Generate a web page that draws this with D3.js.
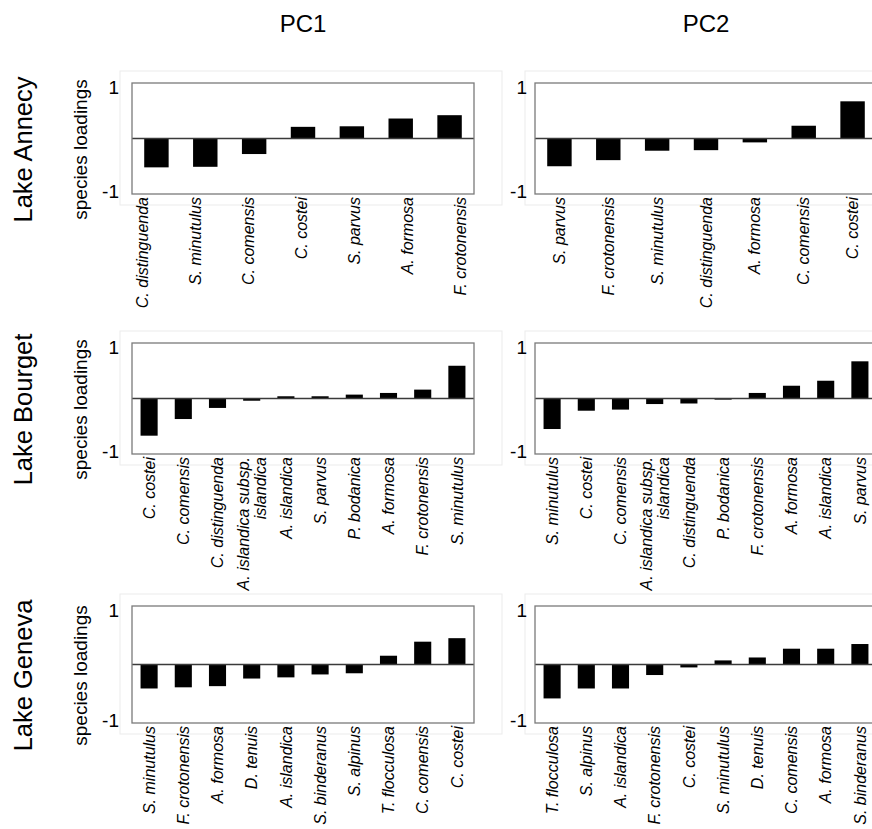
<!DOCTYPE html>
<html>
<head>
<meta charset="utf-8">
<script src="https://cdn.jsdelivr.net/npm/d3@7"></script>
<style>
  body { margin: 0; background: #fff; }
  svg { display: block; font-family: "Liberation Sans", Arial, sans-serif; }
</style>
</head>
<body>
<div id="chart"></div>
<script>
// species loadings per lake, PC1 / PC2
const columnTitles = ['PC1', 'PC2'];
const lakeNames = ['Lake Annecy', 'Lake Bourget', 'Lake Geneva'];
const yTickLabels = ['1', '-1'];

const annecyPC1Species = ['C. distinguenda', 'S. minutulus', 'C. comensis', 'C. costei', 'S. parvus', 'A. formosa', 'F. crotonensis'];
const annecyPC1Values = [-0.52, -0.51, -0.28, 0.21, 0.22, 0.36, 0.42];
const annecyPC2Species = ['S. parvus', 'F. crotonensis', 'S. minutulus', 'C. distinguenda', 'A. formosa', 'C. comensis', 'C. costei'];
const annecyPC2Values = [-0.50, -0.39, -0.22, -0.21, -0.07, 0.23, 0.67];

const bourgetPC1Species = ['C. costei', 'C. comensis', 'C. distinguenda', 'A. islandica subsp. islandica', 'A. islandica', 'S. parvus', 'P. bodanica', 'A. formosa', 'F. crotonensis', 'S. minutulus'];
const bourgetPC1Values = [-0.67, -0.37, -0.17, -0.04, 0.04, 0.04, 0.07, 0.10, 0.16, 0.59];
const bourgetPC2Species = ['S. minutulus', 'C. costei', 'C. comensis', 'A. islandica subsp. islandica', 'C. distinguenda', 'P. bodanica', 'F. crotonensis', 'A. formosa', 'A. islandica', 'S. parvus'];
const bourgetPC2Values = [-0.55, -0.22, -0.20, -0.10, -0.09, -0.02, 0.10, 0.23, 0.32, 0.67];

const genevaPC1Species = ['S. minutulus', 'F. crotonensis', 'A. formosa', 'D. tenuis', 'A. islandica', 'S. binderanus', 'S. alpinus', 'T. flocculosa', 'C. comensis', 'C. costei'];
const genevaPC1Values = [-0.41, -0.39, -0.37, -0.24, -0.22, -0.17, -0.15, 0.15, 0.39, 0.45];
const genevaPC2Species = ['T. flocculosa', 'S. alpinus', 'A. islandica', 'F. crotonensis', 'C. costei', 'S. minutulus', 'D. tenuis', 'C. comensis', 'A. formosa', 'S. binderanus'];
const genevaPC2Values = [-0.58, -0.41, -0.41, -0.18, -0.05, 0.07, 0.12, 0.27, 0.27, 0.35];

// layout
const W = 872, H = 829;
const colLeft = [132, 535];
const colWidth = 342;
const tickGap = [13, 8];
const rowTop = [83, 343, 606];
const rowBottom = [194, 454, 723];

const panels = [
    [{ species: annecyPC1Species, values: annecyPC1Values, labelRange: [142, 460] },
     { species: annecyPC2Species, values: annecyPC2Values }],
    [{ species: bourgetPC1Species, values: bourgetPC1Values },
     { species: bourgetPC2Species, values: bourgetPC2Values }],
    [{ species: genevaPC1Species, values: genevaPC1Values },
     { species: genevaPC2Species, values: genevaPC2Values }]
];

const svg = d3.select('#chart').append('svg')
    .attr('width', W)
    .attr('height', H);

// 열 제목
columnTitles.forEach((t, c) => {
    svg.append('text')
        .attr('x', colLeft[c] + colWidth / 2)
        .attr('y', 32)
        .attr('text-anchor', 'middle')
        .attr('font-size', 24)
        .text(t);
});

// 라벨 줄바꿈 (긴 이름만)
function splitLabel(s) {
    if (s.length <= 20) return [s];
    const i = s.lastIndexOf(' ');
    return [s.slice(0, i), s.slice(i + 1)];
}

panels.forEach((row, r) => {
    const top = rowTop[r], bottom = rowBottom[r];
    const mid = (top + bottom) / 2;

    // 행 라벨
    svg.append('text')
        .attr('transform', `translate(23,${mid + 11}) rotate(-90)`)
        .attr('text-anchor', 'middle')
        .attr('dominant-baseline', 'central')
        .attr('font-size', 25.5)
        .text(lakeNames[r]);

    svg.append('text')
        .attr('transform', `translate(80,${mid + 11}) rotate(-90)`)
        .attr('text-anchor', 'middle')
        .attr('dominant-baseline', 'central')
        .attr('font-size', 19)
        .text('species loadings');

    row.forEach((p, c) => {
        const left = colLeft[c], right = left + colWidth;
        const g = svg.append('g');

        const x = d3.scaleBand()
            .domain(p.species)
            .range([left, right])
            .paddingInner(0.5)
            .paddingOuter(0.25);
        const y = d3.scaleLinear().domain([-1, 1]).range([bottom, top]);

        const lx = d3.scalePoint()
            .domain(p.species)
            .range(p.labelRange || [x(p.species[0]) + x.bandwidth() / 2,
                                    x(p.species[p.species.length - 1]) + x.bandwidth() / 2]);

        // 옅은 바깥 테두리 (원본 붙여넣기 흔적)
        g.append('rect')
            .attr('x', left - (c === 0 ? 12 : 10))
            .attr('y', top - 12)
            .attr('width', colWidth + 40)
            .attr('height', bottom - top + 23)
            .attr('fill', 'none')
            .attr('stroke', '#ebebeb')
            .attr('stroke-width', 1);

        g.selectAll('.bar')
            .data(p.values)
            .join('rect')
            .attr('class', 'bar')
            .attr('x', (d, i) => x(p.species[i]))
            .attr('width', x.bandwidth())
            .attr('y', d => y(Math.max(0, d)))
            .attr('height', d => Math.abs(y(d) - y(0)))
            .attr('fill', '#000');

        // 0 기준선
        g.append('line')
            .attr('x1', left).attr('x2', right)
            .attr('y1', y(0)).attr('y2', y(0))
            .attr('stroke', '#3a3a3a')
            .attr('stroke-width', 1.3);

        // 패널 테두리
        g.append('rect')
            .attr('x', left).attr('y', top)
            .attr('width', colWidth).attr('height', bottom - top)
            .attr('fill', 'none')
            .attr('stroke', '#7a7a7a')
            .attr('stroke-width', 1.3);

        // y 눈금 값
        [1, -1].forEach((v, k) => {
            g.append('text')
                .attr('x', left - tickGap[c])
                .attr('y', y(v) + (v > 0 ? 4 : -3))
                .attr('text-anchor', 'end')
                .attr('dominant-baseline', 'central')
                .attr('font-size', 19)
                .text(yTickLabels[k]);
        });

        // 종 이름
        p.species.forEach(s => {
            const lines = splitLabel(s);
            const t = g.append('text')
                .attr('transform', `translate(${lx(s)},${bottom + 3}) rotate(-90)`)
                .attr('text-anchor', 'end')
                .attr('font-size', 16)
                .attr('font-style', 'italic');
            lines.forEach((ln, j) => {
                t.append('tspan')
                    .attr('x', 0)
                    .attr('y', 0)
                    .attr('dy', `${0.35 + (j - (lines.length - 1) / 2) * 1.05}em`)
                    .text(ln);
            });
        });
    });
});
</script>
</body>
</html>
